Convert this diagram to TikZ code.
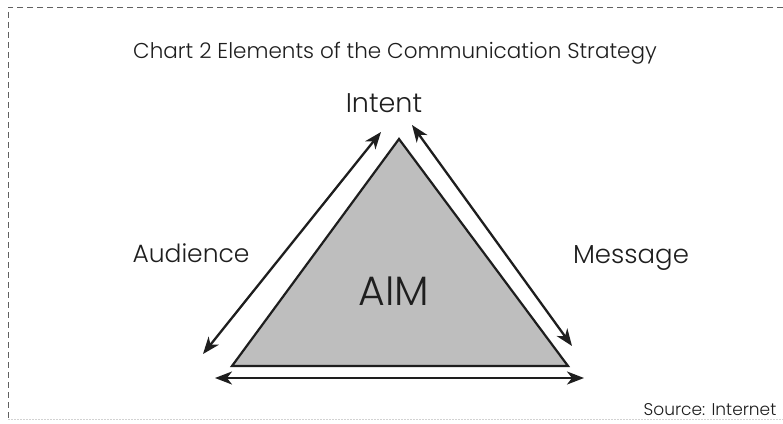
\documentclass[tikz,border=0pt]{standalone}
\usepackage{fontspec}
\setmainfont{Poppins Light}
\usetikzlibrary{arrows.meta}
\definecolor{ink}{HTML}{1E1E1E}
\definecolor{tri}{HTML}{BEBEBE}
\begin{document}
\begin{tikzpicture}[x=1pt,y=-1pt,
  lbl/.style={inner sep=0pt,text=ink,anchor=base},
  dbl/.style={line width=2.3pt,draw=ink,{Stealth[length=17pt,width=13pt,inset=5pt]}-{Stealth[length=17pt,width=13pt,inset=5pt]}},
  frame/.style={draw=ink!70,line width=0.8pt,dash pattern=on 6pt off 4pt}]
\useasboundingbox (0,0) rectangle (783,423);
\fill[white] (0,0) rectangle (783,423);
% frame
\coordinate (fTR) at (783,7);
\coordinate (fTL) at (8,7);
\coordinate (fBL) at (8,419);
\coordinate (fBR) at (783,419);
\draw[frame] (fTR) -- (fTL) -- (fBL);
\draw[gray!35,line width=0.8pt,dash pattern=on 2pt off 1pt] (fBL) -- (fBR);
% title
\node[lbl,font=\fontsize{21.5}{24}\selectfont] (title) at (395,58) {Chart 2 Elements of the Communication Strategy};
% triangle
\coordinate (A) at (399,139);
\coordinate (B) at (232,366);
\coordinate (C) at (568,366);
\filldraw[fill=tri,draw=ink,line width=2.2pt,line join=miter] (A) -- (B) -- (C) -- cycle;
% arrows
\coordinate (l1) at (203,354);
\coordinate (l2) at (381,132);
\coordinate (r1) at (412,125);
\coordinate (r2) at (572,346);
\coordinate (b1) at (215,378);
\coordinate (b2) at (584,378);
\draw[dbl] (l1) -- (l2);
\draw[dbl] (r1) -- (r2);
\draw[dbl] (b1) -- (b2);
% labels
\node[lbl,font=\fontsize{27}{30}\selectfont] (intent) at (384,112) {Intent};
\node[lbl,font=\fontsize{25}{30}\selectfont] (aud) at (191,262) {Audience};
\node[lbl,font=\fontsize{26}{30}\selectfont] (msg) at (631,263) {Message};
\node[lbl,font=\fontsize{41}{46}\selectfont] (aim) at (394,305) {AIM};
\node[lbl,font=\fontsize{17}{20}\selectfont] (src) at (710,415) {Source: Internet};
\end{tikzpicture}
\end{document}
